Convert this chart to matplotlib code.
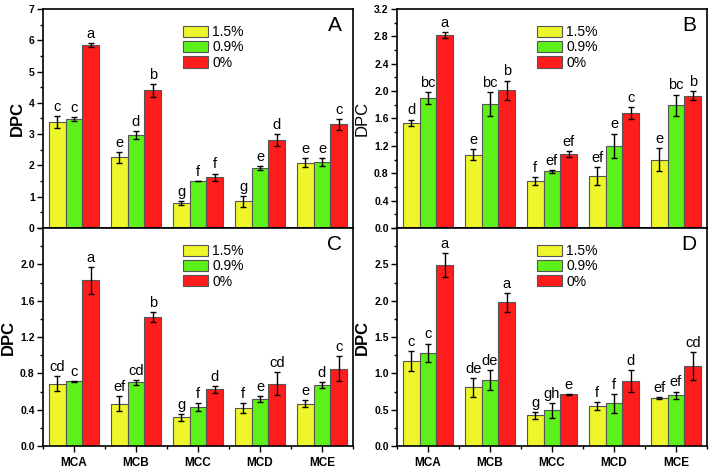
import numpy as np
import matplotlib
matplotlib.use("Agg")
import matplotlib.pyplot as plt
from matplotlib.ticker import MultipleLocator, FuncFormatter

plt.rcParams['font.family'] = ['Liberation Sans', 'DejaVu Sans']

groups = ['MCA', 'MCB', 'MCC', 'MCD', 'MCE']
series = ['1.5%', '0.9%', '0%']
colors = ['#eef52a', '#5ef01a', '#ff1c1c']

# ---- panel A ----
a_vals = [[3.40, 2.26, 0.80, 0.85, 2.09],
          [3.48, 2.98, 1.50, 1.91, 2.11],
          [5.84, 4.40, 1.62, 2.81, 3.31]]
a_err = [[0.19, 0.17, 0.05, 0.18, 0.15],
         [0.07, 0.13, 0.01, 0.07, 0.12],
         [0.06, 0.21, 0.12, 0.18, 0.18]]
a_let = [['c', 'e', 'g', 'g', 'e'],
         ['c', 'd', 'f', 'e', 'e'],
         ['a', 'b', 'f', 'd', 'c']]

# ---- panel B ----
b_vals = [[1.54, 1.07, 0.685, 0.76, 1.00],
          [1.90, 1.81, 0.83, 1.20, 1.79],
          [2.82, 2.01, 1.08, 1.68, 1.93]]
b_err = [[0.045, 0.08, 0.055, 0.13, 0.17],
         [0.09, 0.17, 0.02, 0.18, 0.16],
         [0.04, 0.145, 0.045, 0.09, 0.065]]
b_let = [['d', 'e', 'f', 'ef', 'e'],
         ['bc', 'bc', 'ef', 'e', 'bc'],
         ['a', 'b', 'ef', 'c', 'b']]

# ---- panel C ----
c_vals = [[0.686, 0.466, 0.316, 0.418, 0.466],
          [0.712, 0.70, 0.43, 0.517, 0.672],
          [1.824, 1.42, 0.624, 0.686, 0.851]]
c_err = [[0.08, 0.08, 0.04, 0.057, 0.035],
         [0.005, 0.03, 0.045, 0.035, 0.03],
         [0.147, 0.05, 0.037, 0.127, 0.138]]
c_let = [['cd', 'ef', 'g', 'f', 'e'],
         ['c', 'cd', 'f', 'e', 'd'],
         ['a', 'b', 'd', 'cd', 'c']]

# ---- panel D ----
d_vals = [[1.17, 0.81, 0.42, 0.55, 0.66],
          [1.28, 0.91, 0.49, 0.59, 0.70],
          [2.49, 1.98, 0.71, 0.89, 1.10]]
d_err = [[0.14, 0.13, 0.045, 0.05, 0.01],
         [0.13, 0.14, 0.10, 0.13, 0.05],
         [0.17, 0.13, 0.01, 0.15, 0.19]]
d_let = [['c', 'de', 'g', 'f', 'ef'],
         ['c', 'de', 'gh', 'f', 'ef'],
         ['a', 'a', 'e', 'd', 'cd']]


def draw_panel(ax, vals, errs, lets, tag, ymax, major, minor, fmt, bold_label=True, bottom=False):
    x = np.arange(len(groups))
    w = 0.27
    for i in range(3):
        xs = x + (i - 1) * w
        ax.bar(xs, vals[i], w, color=colors[i], edgecolor='#555555', linewidth=0.8,
               label=series[i], zorder=2)
        ax.errorbar(xs, vals[i], yerr=errs[i], fmt='none', ecolor='black',
                    elinewidth=1.0, capsize=2.5, capthick=1.0, zorder=3)
        for xx, v, e, t in zip(xs, vals[i], errs[i], lets[i]):
            ax.annotate(t, (xx, v + e), xytext=(0, 1.5), textcoords='offset points',
                        ha='center', va='bottom', fontsize=10.5)
    ax.set_xlim(-0.5, 4.5)
    ax.set_ylim(0, ymax)
    ax.yaxis.set_major_locator(MultipleLocator(major))
    ax.yaxis.set_minor_locator(MultipleLocator(minor))

    def yfmt(v, pos):
        # the top label of the lower panels would collide with the panel above
        if bottom and abs(v - ymax) < 1e-6:
            return ''
        return fmt % v
    ax.yaxis.set_major_formatter(FuncFormatter(yfmt))
    ax.tick_params(axis='y', which='major', direction='out', length=4, width=1,
                   labelsize=7.5, pad=2, right=False)
    ax.tick_params(axis='y', which='minor', direction='out', length=2.5, width=1)
    for lab in ax.get_yticklabels():
        lab.set_fontweight('bold')
    ax.set_ylabel('DPC', fontsize=12, fontweight='bold' if bold_label else 'normal',
                  labelpad=3)
    if bottom:
        ax.set_xticks(x)
        ax.set_xticklabels(groups, fontsize=8.5, fontweight='bold')
        ax.xaxis.set_minor_locator(MultipleLocator(1, offset=0.5))
        ax.tick_params(axis='x', which='major', direction='out', length=4, width=1, pad=4)
        ax.tick_params(axis='x', which='minor', direction='out', length=2.5, width=1)
    else:
        ax.set_xticks([])
    for sp in ax.spines.values():
        sp.set_linewidth(1.2)
    ax.text(0.965, 0.925, tag, transform=ax.transAxes, ha='right', va='center', fontsize=15)
    ax.legend(loc='upper left', bbox_to_anchor=(0.425, 0.965), frameon=False,
              fontsize=10, handlelength=1.8, handleheight=0.85, labelspacing=0.1,
              handletextpad=0.3, borderaxespad=0.2)


fig = plt.figure(figsize=(7.09, 4.73), dpi=100)
W, H = 709, 473
axA = fig.add_axes([43 / W, 1 - 228 / H, 310 / W, 219 / H])
axB = fig.add_axes([397 / W, 1 - 228 / H, 310 / W, 219 / H])
axC = fig.add_axes([43 / W, 1 - 446 / H, 310 / W, 218 / H])
axD = fig.add_axes([397 / W, 1 - 446 / H, 310 / W, 218 / H])

draw_panel(axA, a_vals, a_err, a_let, 'A', 7, 1, 0.5, '%d')
draw_panel(axB, b_vals, b_err, b_let, 'B', 3.2, 0.4, 0.2, '%.1f', bold_label=False)
draw_panel(axC, c_vals, c_err, c_let, 'C', 2.4, 0.4, 0.2, '%.1f', bottom=True)
draw_panel(axD, d_vals, d_err, d_let, 'D', 3.0, 0.5, 0.25, '%.1f', bottom=True)

fig.savefig('out.png', dpi=100)
